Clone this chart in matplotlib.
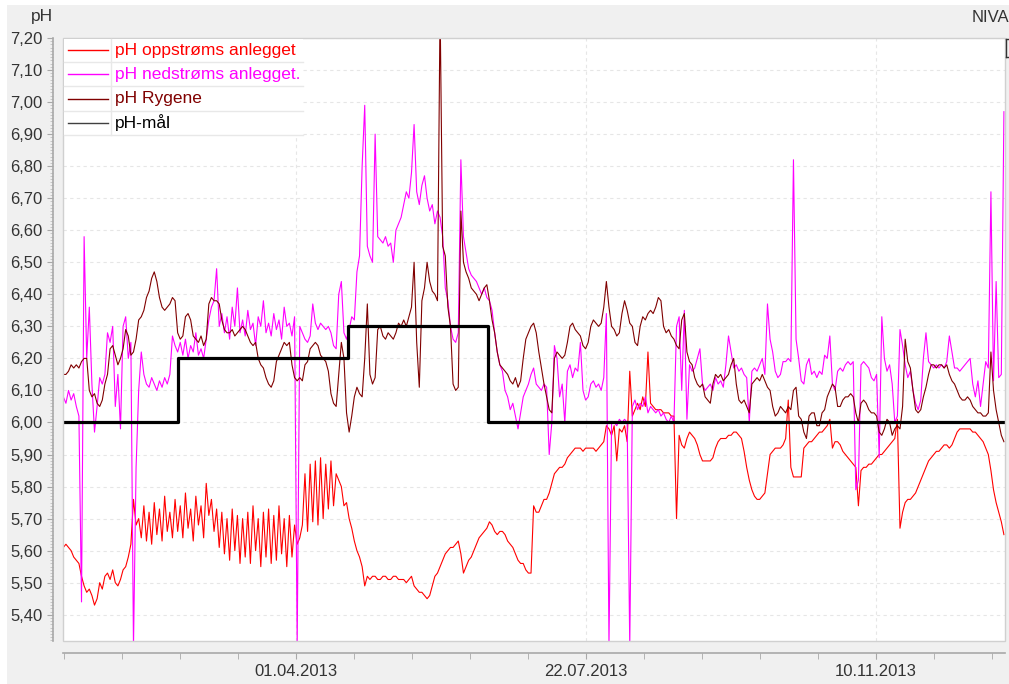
import matplotlib
matplotlib.use("Agg")
import matplotlib.pyplot as plt
import matplotlib.dates as mdates
from matplotlib.ticker import FuncFormatter, MultipleLocator, FixedLocator
from matplotlib.patches import Rectangle
from matplotlib.lines import Line2D
import numpy as np
import pandas as pd

plt.rcParams['font.family'] = ['Liberation Sans', 'DejaVu Sans']

# ---------------- data ----------------
dates = pd.date_range('2013-01-02', periods=363, freq='D')

ph_upstream = [
    5.61, 5.62, 5.61, 5.60, 5.58, 5.57, 5.56, 5.52, 5.49, 5.47,
    5.48, 5.46, 5.43, 5.45, 5.50, 5.48, 5.52, 5.53, 5.51, 5.54,
    5.50, 5.49, 5.51, 5.54, 5.55, 5.58, 5.62, 5.76, 5.68, 5.70,
    5.64, 5.74, 5.63, 5.72, 5.62, 5.75, 5.65, 5.73, 5.63, 5.77,
    5.66, 5.72, 5.64, 5.76, 5.66, 5.74, 5.64, 5.78, 5.67, 5.73,
    5.63, 5.77, 5.68, 5.74, 5.64, 5.81, 5.71, 5.76, 5.66, 5.73,
    5.61, 5.72, 5.59, 5.70, 5.57, 5.73, 5.60, 5.71, 5.56, 5.70,
    5.58, 5.72, 5.56, 5.74, 5.60, 5.70, 5.55, 5.72, 5.58, 5.73,
    5.56, 5.71, 5.57, 5.74, 5.59, 5.70, 5.55, 5.71, 5.58, 5.68,
    5.62, 5.64, 5.68, 5.84, 5.66, 5.87, 5.69, 5.88, 5.68, 5.89,
    5.70, 5.87, 5.73, 5.88, 5.74, 5.84, 5.82, 5.80, 5.74, 5.75,
    5.70, 5.67, 5.63, 5.60, 5.58, 5.55, 5.49, 5.52, 5.51, 5.52,
    5.52, 5.51, 5.51, 5.52, 5.52, 5.51, 5.51, 5.52, 5.52, 5.51,
    5.51, 5.51, 5.50, 5.51, 5.52, 5.49, 5.48, 5.47, 5.47, 5.46,
    5.45, 5.46, 5.49, 5.52, 5.53, 5.55, 5.57, 5.59, 5.60, 5.61,
    5.61, 5.62, 5.63, 5.59, 5.53, 5.55, 5.57, 5.58, 5.60, 5.62,
    5.64, 5.65, 5.66, 5.67, 5.69, 5.68, 5.66, 5.65, 5.66, 5.66,
    5.65, 5.63, 5.62, 5.61, 5.59, 5.57, 5.56, 5.56, 5.54, 5.53,
    5.53, 5.74, 5.72, 5.72, 5.74, 5.76, 5.76, 5.78, 5.81, 5.84,
    5.85, 5.86, 5.86, 5.87, 5.89, 5.90, 5.91, 5.92, 5.92, 5.92,
    5.91, 5.92, 5.92, 5.92, 5.92, 5.91, 5.92, 5.93, 5.94, 5.99,
    5.98, 5.96, 5.99, 5.88, 5.98, 5.97, 5.99, 5.94, 6.16, 6.02,
    6.04, 6.06, 6.04, 6.08, 6.05, 6.22, 6.06, 6.05, 6.04, 6.04,
    6.04, 6.03, 6.03, 6.03, 6.02, 6.02, 5.70, 5.96, 5.93, 5.92,
    5.95, 5.97, 5.96, 5.95, 5.93, 5.90, 5.88, 5.88, 5.88, 5.88,
    5.89, 5.92, 5.94, 5.95, 5.95, 5.95, 5.96, 5.96, 5.97, 5.97,
    5.96, 5.95, 5.91, 5.86, 5.82, 5.79, 5.77, 5.76, 5.76, 5.77,
    5.78, 5.84, 5.90, 5.91, 5.92, 5.92, 5.92, 5.93, 5.95, 6.07,
    5.86, 5.83, 5.83, 5.83, 5.83, 5.92, 5.93, 5.94, 5.94, 5.95,
    5.96, 5.97, 5.97, 5.98, 5.99, 6.01, 5.92, 5.94, 5.94, 5.93,
    5.91, 5.90, 5.89, 5.88, 5.87, 5.86, 5.74, 5.85, 5.86, 5.86,
    5.87, 5.87, 5.88, 5.89, 5.90, 5.90, 5.91, 5.92, 5.93, 5.94,
    5.95, 6.01, 5.67, 5.72, 5.75, 5.76, 5.76, 5.77, 5.78, 5.80,
    5.82, 5.84, 5.86, 5.88, 5.89, 5.90, 5.91, 5.91, 5.92, 5.93,
    5.93, 5.92, 5.93, 5.95, 5.97, 5.98, 5.98, 5.98, 5.98, 5.98,
    5.97, 5.97, 5.96, 5.95, 5.94, 5.92, 5.90, 5.85, 5.79, 5.75,
    5.72, 5.69, 5.65,
]

ph_downstream = [
    6.08, 6.06, 6.10, 6.07, 6.09, 6.05, 6.02, 5.44, 6.58, 6.20,
    6.36, 6.12, 5.97, 6.05, 6.14, 6.12, 6.15, 6.28, 6.25, 6.30,
    6.05, 6.15, 5.98, 6.30, 6.33, 6.20, 6.25, 5.30, 5.86, 6.10,
    6.22, 6.15, 6.12, 6.11, 6.14, 6.12, 6.10, 6.13, 6.11, 6.14,
    6.12, 6.15, 6.27, 6.24, 6.22, 6.25, 6.21, 6.26, 6.20, 6.24,
    6.22, 6.28, 6.21, 6.23, 6.20, 6.26, 6.32, 6.36, 6.38, 6.48,
    6.30, 6.34, 6.28, 6.33, 6.26, 6.36, 6.30, 6.42, 6.28, 6.32,
    6.27, 6.35, 6.29, 6.31, 6.24, 6.33, 6.30, 6.38, 6.28, 6.31,
    6.27, 6.34, 6.29, 6.32, 6.26, 6.36, 6.30, 6.31, 6.27, 6.33,
    5.30, 6.30, 6.28, 6.26, 6.25, 6.27, 6.37, 6.31, 6.29, 6.31,
    6.30, 6.29, 6.30, 6.28, 6.24, 6.23, 6.40, 6.44, 6.28, 6.26,
    6.29, 6.33, 6.32, 6.47, 6.52, 6.80, 6.99, 6.55, 6.52, 6.50,
    6.90, 6.58, 6.57, 6.56, 6.58, 6.55, 6.56, 6.50, 6.60, 6.62,
    6.64, 6.68, 6.72, 6.70, 6.78, 6.93, 6.72, 6.68, 6.74, 6.77,
    6.70, 6.66, 6.68, 6.62, 6.66, 6.64, 6.58, 6.42, 6.38, 6.30,
    6.26, 6.25, 6.28, 6.82, 6.58, 6.53, 6.48, 6.46, 6.45, 6.44,
    6.42, 6.40, 6.42, 6.39, 6.38, 6.35, 6.28, 6.22, 6.18, 6.16,
    6.10, 6.08, 6.04, 6.06, 6.02, 5.98, 6.03, 6.08, 6.10, 6.12,
    6.15, 6.17, 6.12, 6.11, 6.10, 6.12, 6.11, 5.90, 6.00, 6.24,
    6.20, 6.08, 6.12, 6.00, 6.16, 6.18, 6.14, 6.17, 6.16, 6.25,
    6.10, 6.07, 6.08, 6.12, 6.13, 6.11, 6.12, 6.10, 6.14, 6.34,
    5.30, 6.00, 6.00, 5.99, 6.01, 6.00, 6.01, 6.00, 5.30, 6.05,
    6.07, 6.04, 6.06, 6.05, 6.08, 6.03, 6.05, 6.04, 6.03, 6.04,
    6.02, 6.03, 6.01, 6.00, 6.02, 6.00, 6.30, 6.33, 6.10, 6.35,
    6.01, 6.18, 6.16, 6.17, 6.20, 6.23, 6.12, 6.10, 6.11, 6.12,
    6.10, 6.14, 6.12, 6.13, 6.11, 6.18, 6.27, 6.22, 6.17, 6.18,
    6.16, 6.17, 6.15, 6.14, 6.00, 6.16, 6.17, 6.16, 6.18, 6.20,
    6.15, 6.37, 6.26, 6.22, 6.16, 6.14, 6.15, 6.19, 6.19, 6.20,
    6.19, 6.82, 6.26, 6.20, 6.13, 6.12, 6.18, 6.20, 6.15, 6.16,
    6.14, 6.16, 6.15, 6.21, 6.20, 6.27, 6.12, 6.10, 6.16, 6.17,
    6.16, 6.18, 6.19, 6.18, 6.19, 5.79, 5.82, 6.18, 6.19, 6.18,
    6.17, 6.14, 6.13, 6.15, 5.89, 6.33, 6.20, 6.16, 6.18, 6.12,
    6.00, 6.02, 6.29, 6.24, 6.18, 6.14, 6.16, 6.10, 6.06, 6.04,
    6.07, 6.20, 6.28, 6.19, 6.18, 6.17, 6.18, 6.17, 6.18, 6.17,
    6.19, 6.27, 6.22, 6.17, 6.17, 6.16, 6.17, 6.18, 6.19, 6.20,
    6.12, 6.08, 6.13, 6.05, 6.12, 6.19, 6.17, 6.72, 6.13, 6.44,
    6.14, 6.15, 6.97,
]

ph_rygene = [
    6.15, 6.15, 6.16, 6.18, 6.17, 6.18, 6.17, 6.19, 6.20, 6.20,
    6.10, 6.08, 6.09, 6.06, 6.05, 6.07, 6.12, 6.15, 6.23, 6.24,
    6.21, 6.18, 6.20, 6.23, 6.29, 6.27, 6.21, 6.22, 6.26, 6.32,
    6.33, 6.35, 6.39, 6.41, 6.45, 6.47, 6.44, 6.39, 6.36, 6.35,
    6.36, 6.37, 6.39, 6.38, 6.28, 6.26, 6.27, 6.33, 6.34, 6.32,
    6.27, 6.26, 6.25, 6.27, 6.24, 6.26, 6.37, 6.39, 6.38, 6.38,
    6.37, 6.32, 6.29, 6.28, 6.28, 6.29, 6.27, 6.28, 6.29, 6.30,
    6.29, 6.27, 6.25, 6.24, 6.25, 6.20, 6.18, 6.17, 6.14, 6.12,
    6.11, 6.13, 6.19, 6.21, 6.23, 6.25, 6.24, 6.25, 6.18, 6.14,
    6.13, 6.14, 6.13, 6.18, 6.19, 6.23, 6.24, 6.25, 6.24, 6.21,
    6.20, 6.19, 6.16, 6.09, 6.06, 6.05, 6.15, 6.25, 6.20, 6.03,
    5.97, 6.02, 6.08, 6.11, 6.09, 6.08, 6.20, 6.37, 6.15, 6.12,
    6.14, 6.29, 6.30, 6.27, 6.26, 6.28, 6.27, 6.26, 6.28, 6.31,
    6.30, 6.32, 6.30, 6.33, 6.36, 6.50, 6.25, 6.11, 6.38, 6.42,
    6.50, 6.44, 6.41, 6.40, 6.38, 7.30, 6.55, 6.52, 6.36, 6.30,
    6.12, 6.10, 6.11, 6.66, 6.50, 6.47, 6.45, 6.42, 6.41, 6.40,
    6.38, 6.40, 6.42, 6.43, 6.38, 6.32, 6.28, 6.22, 6.18, 6.17,
    6.16, 6.15, 6.13, 6.12, 6.14, 6.11, 6.13, 6.20, 6.26, 6.28,
    6.30, 6.31, 6.28, 6.22, 6.17, 6.12, 6.08, 6.04, 6.03, 6.20,
    6.22, 6.21, 6.20, 6.21, 6.25, 6.30, 6.31, 6.29, 6.28, 6.27,
    6.24, 6.23, 6.25, 6.30, 6.32, 6.31, 6.30, 6.31, 6.36, 6.44,
    6.36, 6.30, 6.29, 6.27, 6.28, 6.34, 6.38, 6.35, 6.31, 6.30,
    6.25, 6.24, 6.30, 6.33, 6.32, 6.34, 6.35, 6.34, 6.36, 6.39,
    6.38, 6.30, 6.28, 6.29, 6.27, 6.26, 6.24, 6.23, 6.32, 6.34,
    6.22, 6.19, 6.18, 6.14, 6.12, 6.11, 6.12, 6.08, 6.07, 6.06,
    6.12, 6.15, 6.14, 6.15, 6.13, 6.14, 6.15, 6.18, 6.20, 6.12,
    6.07, 6.06, 6.07, 6.05, 6.03, 6.12, 6.13, 6.14, 6.13, 6.15,
    6.13, 6.11, 6.10, 6.05, 6.02, 6.03, 6.05, 6.04, 6.03, 6.05,
    6.04, 6.10, 6.11, 6.02, 6.01, 5.97, 5.95, 6.02, 6.03, 6.03,
    5.99, 5.99, 6.03, 6.04, 6.08, 6.10, 6.12, 6.11, 6.05, 6.05,
    6.07, 6.08, 6.08, 6.09, 6.08, 6.03, 6.00, 6.06, 6.07, 6.06,
    6.04, 6.03, 6.03, 6.02, 5.97, 5.96, 5.98, 6.01, 6.00, 5.96,
    5.98, 5.99, 5.98, 6.05, 6.26, 6.19, 6.17, 6.10, 6.04, 6.03,
    6.04, 6.08, 6.11, 6.15, 6.18, 6.18, 6.17, 6.18, 6.18, 6.17,
    6.18, 6.15, 6.13, 6.12, 6.10, 6.08, 6.07, 6.07, 6.08, 6.07,
    6.05, 6.04, 6.03, 6.03, 6.02, 6.02, 6.03, 6.22, 6.10, 6.04,
    6.00, 5.96, 5.94,
]

target_dates = ['2013-01-01 21:00', '2013-02-15 02:00', '2013-04-21 14:00',
                '2013-06-14 10:00', '2013-12-30 12:00']
target_values = [6.00, 6.20, 6.30, 6.00, 6.00]

series_labels = ['pH oppstrøms anlegget', 'pH nedstrøms anlegget.', 'pH Rygene', 'pH-mål']
series_colors = ['#ff0000', '#ff00ff', '#800000', '#000000']

major_tick_dates = ['2013-04-01 12:00', '2013-07-22 02:00', '2013-11-10 17:00']
x_range = ['2013-01-01 21:00', '2013-12-30 10:00']
y_range = [5.318, 7.20]

# ---------------- figure ----------------
W, H = 1009, 684
fig = plt.figure(figsize=(W / 100, H / 100), dpi=100, facecolor='white')

def fx(px):
    return px / W

def fy(py):
    return 1 - py / H

# grey panel
fig.add_artist(Rectangle((fx(7), 0), 1 - fx(7), fy(5), transform=fig.transFigure,
                         facecolor='#f0f0f0', edgecolor='none', zorder=-10))

ax = fig.add_axes([fx(63), fy(641), fx(1005) - fx(63), fy(38) - fy(641)])
ax.set_facecolor('white')

ax.plot(dates, ph_upstream, color=series_colors[0], lw=0.8, zorder=3)
ax.plot(dates, ph_downstream, color=series_colors[1], lw=0.8, zorder=4)
ax.plot(dates, ph_rygene, color=series_colors[2], lw=0.8, zorder=5)
ax.plot(pd.to_datetime(target_dates), target_values, color='black', lw=2.3,
        drawstyle='steps-post', zorder=6)

ax.set_xlim(pd.to_datetime(x_range[0]), pd.to_datetime(x_range[1]))
ax.set_ylim(*y_range)

# y axis
ax.yaxis.set_major_locator(MultipleLocator(0.1))
ax.yaxis.set_minor_locator(MultipleLocator(0.01))
ax.yaxis.set_major_formatter(FuncFormatter(lambda v, p: f"{v:.2f}".replace('.', ',')))

# x axis
maj = mdates.date2num(pd.to_datetime(major_tick_dates))
step = (maj[1] - maj[0]) / 5.0
minors = maj[0] + step * np.arange(-4, 14)
ax.xaxis.set_major_locator(FixedLocator(maj))
ax.xaxis.set_minor_locator(FixedLocator(minors))
ax.xaxis.set_major_formatter(mdates.DateFormatter('%d.%m.%Y'))

for s in ['top', 'right']:
    ax.spines[s].set_visible(False)
ax.spines['left'].set_position(('outward', 7.5))
ax.spines['bottom'].set_position(('outward', 8.5))
for s in ['left', 'bottom']:
    ax.spines[s].set_color('#a8a8a8')
    ax.spines[s].set_linewidth(1.2)

ax.tick_params(axis='y', which='major', length=4, color='#a8a8a8', labelsize=12,
               labelcolor='#333333', pad=3)
ax.tick_params(axis='y', which='minor', length=2, color='#c0c0c0')
ax.tick_params(axis='x', which='major', length=4, color='#a8a8a8', labelsize=12,
               labelcolor='#333333', pad=4)
ax.tick_params(axis='x', which='minor', length=4, color='#a8a8a8')

ax.grid(True, which='major', color='#e6e6e6', linestyle=(0, (3, 3)), lw=0.8, zorder=0)

# plot-area border
ax.add_patch(Rectangle((0, 0), 1, 1, transform=ax.transAxes, fill=False,
                       edgecolor='#d0d0d0', lw=1.0, clip_on=False, zorder=10))

# legend (table style)
fig.add_artist(Rectangle((fx(64), fy(135)), fx(303) - fx(64), fy(39) - fy(135),
                         transform=fig.transFigure, facecolor='white', edgecolor='none', zorder=20))
for i, (lab, col) in enumerate(zip(series_labels, series_colors)):
    yc = 50 + 24.3 * i
    hcol = '#404040' if col == '#000000' else col
    fig.add_artist(Line2D([fx(68), fx(108)], [fy(yc), fy(yc)], color=hcol, lw=1.0,
                          transform=fig.transFigure, zorder=21))
    fig.text(fx(115), fy(yc), lab, color=col, fontsize=12.5, va='center', ha='left', zorder=22)
    ysep = 62 + 24.3 * i
    fig.add_artist(Line2D([fx(64), fx(303)], [fy(ysep), fy(ysep)], color='#e8e8e8', lw=1.0,
                          transform=fig.transFigure, zorder=21))
fig.add_artist(Line2D([fx(111), fx(111)], [fy(39), fy(135)], color='#e8e8e8', lw=1.0,
                      transform=fig.transFigure, zorder=21))

# captions
fig.text(fx(42), fy(17), 'pH', fontsize=12.5, color='#333333', ha='center', va='center')
fig.text(fx(1009), fy(17), 'NIVA', fontsize=12, color='#333333', ha='right', va='center')
fig.add_artist(Line2D([fx(1006), fx(1006)], [fy(39), fy(57)], color='#333333', lw=1.0,
                      transform=fig.transFigure))
fig.add_artist(Line2D([fx(1006), fx(1009)], [fy(39), fy(39)], color='#333333', lw=1.0,
                      transform=fig.transFigure))
fig.add_artist(Line2D([fx(1006), fx(1009)], [fy(57), fy(57)], color='#333333', lw=1.0,
                      transform=fig.transFigure))

fig.savefig('out.png', dpi=100, facecolor=fig.get_facecolor())
